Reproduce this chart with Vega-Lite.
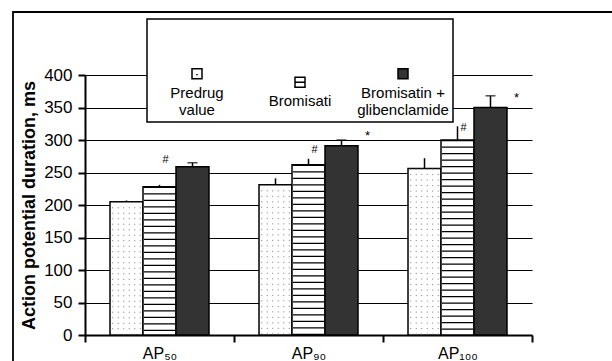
{
  "$schema": "https://vega.github.io/schema/vega-lite/v6.json",
  "autosize": "none",
  "width": 447,
  "height": 260,
  "padding": {"left": 85, "top": 75, "right": 80, "bottom": 26},
  "background": "white",
  "config": {
    "font": "Liberation Sans",
    "view": {"stroke": null},
    "axisY": {
      "tickCount": 8,
      "titleFontSize": 18,
      "titleFontWeight": "bold",
      "titleColor": "black",
      "titlePadding": 5,
      "labelFontSize": 17,
      "labelColor": "black",
      "labelPadding": 6,
      "domainColor": "black",
      "domainWidth": 2,
      "tickColor": "black",
      "tickWidth": 2,
      "tickSize": 7,
      "grid": true,
      "gridColor": "black",
      "gridWidth": 1.2
    }
  },
  "datasets": {
    "bars": [
      {"cat": "AP50", "series": "Predrug value", "value": 205, "upper": 207},
      {"cat": "AP50", "series": "Bromisati", "value": 228, "upper": 231},
      {"cat": "AP50", "series": "Bromisatin + glibenclamide", "value": 259, "upper": 265},
      {"cat": "AP90", "series": "Predrug value", "value": 231, "upper": 241},
      {"cat": "AP90", "series": "Bromisati", "value": 262, "upper": 271},
      {"cat": "AP90", "series": "Bromisatin + glibenclamide", "value": 291, "upper": 300},
      {"cat": "AP100", "series": "Predrug value", "value": 256, "upper": 272},
      {"cat": "AP100", "series": "Bromisati", "value": 300, "upper": 321},
      {"cat": "AP100", "series": "Bromisatin + glibenclamide", "value": 350, "upper": 368}
    ],
    "notes": [
      {"cat": "AP50", "series": "Bromisati", "sym": "#", "ypos": 270},
      {"cat": "AP90", "series": "Bromisati", "sym": "#", "ypos": 284},
      {"cat": "AP100", "series": "Bromisati", "sym": "#", "ypos": 319},
      {"cat": "AP90", "series": "Bromisatin + glibenclamide", "sym": "*", "ypos": 306},
      {"cat": "AP100", "series": "Bromisatin + glibenclamide", "sym": "*", "ypos": 364}
    ]
  },
  "encoding": {
    "x": {
      "field": "cat",
      "type": "nominal",
      "sort": ["AP50", "AP90", "AP100"],
      "scale": {"paddingInner": 0, "paddingOuter": 0},
      "axis": {
        "title": null,
        "labelAngle": 0,
        "labelExpr": "datum.value == 'AP50' ? 'AP\u2085\u2080' : datum.value == 'AP90' ? 'AP\u2089\u2080' : datum.value == 'AP100' ? 'AP\u2081\u2080\u2080' : ''",
        "labelFontSize": 16,
        "labelColor": "black",
        "labelPadding": 3,
        "domainColor": "black",
        "domainWidth": 2,
        "tickColor": "black",
        "tickWidth": 2,
        "tickSize": 7,
        "tickBand": "extent",
        "grid": false
      }
    }
  },
  "layer": [
    {
      "data": {"name": "bars"},
      "mark": {"type": "bar", "stroke": "black", "strokeWidth": 1.5},
      "encoding": {
        "xOffset": {"field": "series", "type": "nominal", "scale": {"domain": ["Predrug value", "Bromisati", "Bromisatin + glibenclamide"], "paddingInner": 0, "paddingOuter": 0.758}},
        "y": {
          "field": "value",
          "type": "quantitative",
          "title": "Action potential duration, ms",
          "scale": {"domain": [0, 400], "nice": false}
        },
        "fill": {
          "field": "series",
          "type": "nominal",
          "scale": {"domain": ["Predrug value", "Bromisati", "Bromisatin + glibenclamide"], "range": ["white", "white", "#333333"]},
          "legend": {
            "title": " ",
            "titleFontSize": 10,
            "titlePadding": 33,
            "orient": "none",
            "legendX": 62,
            "legendY": -56,
            "direction": "horizontal",
            "columns": 3,
            "gridAlign": "all",
            "columnPadding": 11,
            "padding": 4,
            "strokeColor": "black",
            "fillColor": "white",
            "labelFontSize": 15,
            "labelFontWeight": "normal",
            "labelColor": "black",
            "labelLimit": 300,
            "symbolSize": 100,
            "symbolStrokeColor": "black",
            "symbolStrokeWidth": 1.5,
            "labelExpr": "datum.label == 'Predrug value' ? ['Predrug', 'value'] : datum.label == 'Bromisatin + glibenclamide' ? ['Bromisatin +', 'glibenclamide'] : datum.label",
            "encode": {
              "symbols": {"update": {"x": {"value": 46}, "shape": {"signal": "datum.value == 'Bromisati' ? 'M-1,-1H1V1H-1ZM-1,0H1' : datum.value == 'Predrug value' ? 'M-1,-1H1V1H-1ZM0,0.05V0.3' : 'square'"}}},
              "labels": {"update": {"x": {"value": 46}, "align": {"value": "center"}, "baseline": {"value": "top"}, "dy": {"value": 12}, "lineHeight": {"value": 17}}},
              "legend": {"update": {"strokeWidth": {"value": 1.5}}}
            }
          }
        }
      }
    },
    {
      "data": {"name": "bars"},
      "transform": [{"filter": "datum.series == 'Bromisati'"}],
      "mark": {"type": "rule", "strokeWidth": 31, "strokeDash": [1.2, 5.3], "color": "black"},
      "encoding": {
        "xOffset": {"field": "series", "type": "nominal"},
        "y": {"field": "value", "type": "quantitative", "title": "Action potential duration, ms"},
        "y2": {"datum": 0}
      }
    },
    {
      "data": {"name": "bars"},
      "transform": [{"filter": "datum.series == 'Predrug value'"}],
      "mark": {"type": "rule", "strokeWidth": 1, "strokeDash": [1, 4.5], "color": "#777777", "xOffset": -46.75},
      "encoding": {"y": {"field": "value", "type": "quantitative", "title": "Action potential duration, ms"}, "y2": {"datum": 0}}
    },
    {
      "data": {"name": "bars"},
      "transform": [{"filter": "datum.series == 'Predrug value'"}],
      "mark": {"type": "rule", "strokeWidth": 1, "strokeDash": [1, 4.5], "color": "#777777", "xOffset": -41.25},
      "encoding": {"y": {"field": "value", "type": "quantitative", "title": "Action potential duration, ms"}, "y2": {"datum": 0}}
    },
    {
      "data": {"name": "bars"},
      "transform": [{"filter": "datum.series == 'Predrug value'"}],
      "mark": {"type": "rule", "strokeWidth": 1, "strokeDash": [1, 4.5], "color": "#777777", "xOffset": -35.75},
      "encoding": {"y": {"field": "value", "type": "quantitative", "title": "Action potential duration, ms"}, "y2": {"datum": 0}}
    },
    {
      "data": {"name": "bars"},
      "transform": [{"filter": "datum.series == 'Predrug value'"}],
      "mark": {"type": "rule", "strokeWidth": 1, "strokeDash": [1, 4.5], "color": "#777777", "xOffset": -30.25},
      "encoding": {"y": {"field": "value", "type": "quantitative", "title": "Action potential duration, ms"}, "y2": {"datum": 0}}
    },
    {
      "data": {"name": "bars"},
      "transform": [{"filter": "datum.series == 'Predrug value'"}],
      "mark": {"type": "rule", "strokeWidth": 1, "strokeDash": [1, 4.5], "color": "#777777", "xOffset": -24.75},
      "encoding": {"y": {"field": "value", "type": "quantitative", "title": "Action potential duration, ms"}, "y2": {"datum": 0}}
    },
    {
      "data": {"name": "bars"},
      "transform": [{"filter": "datum.series == 'Predrug value'"}],
      "mark": {"type": "rule", "strokeWidth": 1, "strokeDash": [1, 4.5], "color": "#777777", "xOffset": -19.25},
      "encoding": {"y": {"field": "value", "type": "quantitative", "title": "Action potential duration, ms"}, "y2": {"datum": 0}}
    },
    {
      "data": {"name": "bars"},
      "mark": {"type": "rule", "strokeWidth": 1.5},
      "encoding": {
        "xOffset": {"field": "series", "type": "nominal"},
        "y": {"field": "value", "type": "quantitative", "title": "Action potential duration, ms"},
        "y2": {"field": "upper"},
        "stroke": {
          "datum": "frame",
          "type": "nominal",
          "scale": {"domain": ["frame"], "range": ["black"]},
          "legend": {
            "title": null,
            "orient": "none",
            "legendX": -72,
            "legendY": -63,
            "padding": 420,
            "strokeColor": "black",
            "fillColor": null,
            "symbolOpacity": 0,
            "labelOpacity": 0,
            "symbolSize": 1,
            "labelFontSize": 1,
            "encode": {"legend": {"update": {"strokeWidth": {"value": 1.8}}}}
          }
        }
      }
    },
    {
      "data": {"name": "bars"},
      "transform": [{"filter": "datum.series == 'Bromisatin + glibenclamide'"}],
      "mark": {"type": "tick", "orient": "horizontal", "color": "black", "thickness": 1.5, "size": 10},
      "encoding": {
        "xOffset": {"field": "series", "type": "nominal"},
        "y": {"field": "upper", "type": "quantitative", "title": "Action potential duration, ms"}
      }
    },
    {
      "data": {"name": "notes"},
      "transform": [{"filter": "datum.sym == '#'"}],
      "mark": {"type": "text", "fontSize": 11, "color": "black", "dx": 6, "baseline": "middle"},
      "encoding": {
        "xOffset": {"field": "series", "type": "nominal"},
        "y": {"field": "ypos", "type": "quantitative", "title": "Action potential duration, ms"},
        "text": {"field": "sym"}
      }
    },
    {
      "data": {"name": "notes"},
      "transform": [{"filter": "datum.sym == '*'"}],
      "mark": {"type": "text", "fontSize": 13, "color": "black", "dx": 26, "baseline": "middle"},
      "encoding": {
        "xOffset": {"field": "series", "type": "nominal"},
        "y": {"field": "ypos", "type": "quantitative", "title": "Action potential duration, ms"},
        "text": {"field": "sym"}
      }
    }
  ]
}
